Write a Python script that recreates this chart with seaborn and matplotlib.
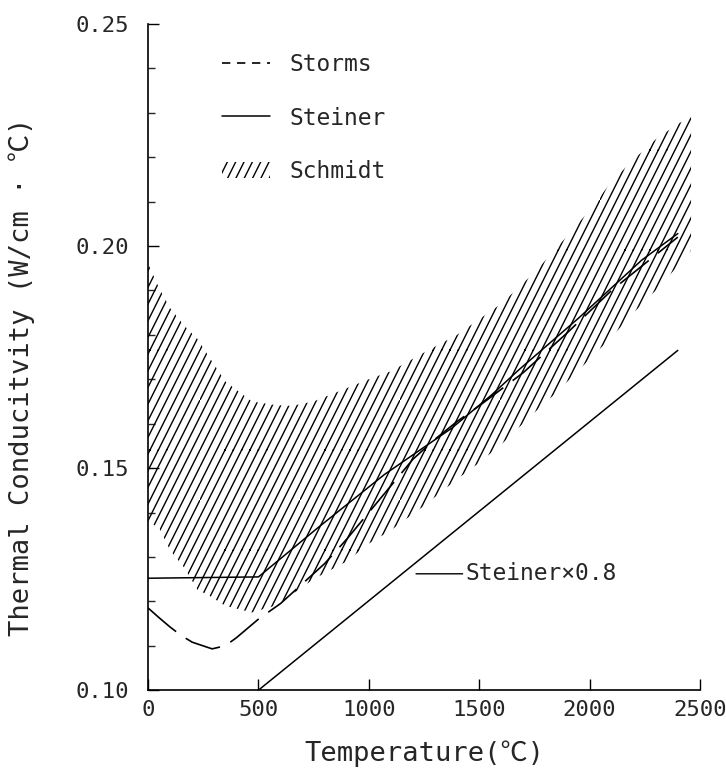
import numpy as np
import pandas as pd
import matplotlib
matplotlib.use("Agg")
import matplotlib.pyplot as plt
import matplotlib.hatch as mhatch
from matplotlib.path import Path
from matplotlib.lines import Line2D
from matplotlib.patches import Patch
from matplotlib.ticker import MultipleLocator, FixedLocator
import seaborn as sns

# Storms (dashed)
storms_t = [0, 50, 100, 150, 200, 290, 350, 400, 500, 600, 700, 800, 900, 1000,
            1100, 1200, 1300, 1400, 1500, 1700, 1900, 2100, 2300, 2400]
storms_k = [0.1185, 0.1163, 0.1142, 0.1123, 0.1108, 0.1093, 0.1100, 0.1118, 0.1160, 0.1195,
            0.1240, 0.1285, 0.1340, 0.1400, 0.1460, 0.1520, 0.1565, 0.1605, 0.1640,
            0.1715, 0.1805, 0.1900, 0.1980, 0.2020]

# Steiner (solid)
steiner_t = [0, 500, 770, 1072, 1376, 1557, 1677, 1949, 2236, 2400]
steiner_k = [0.1252, 0.1255, 0.1366, 0.1486, 0.1590, 0.1665, 0.1720, 0.1837, 0.1968, 0.2028]

# Steiner x 0.8
steiner08_t = [500, 2400]
steiner08_k = [0.1000, 0.1765]

# Schmidt band (hatched)
schmidt_t = [0, 50, 100, 165, 225, 270, 350, 470, 575, 650, 750, 900, 1000, 1100, 1250,
             1400, 1500, 1600, 1750, 1850, 2000, 2100, 2200, 2300, 2400, 2460]
schmidt_hi = [0.1960, 0.1905, 0.1860, 0.1820, 0.1790, 0.1755, 0.1695, 0.1650, 0.1642, 0.1640,
              0.1650, 0.1680, 0.1700, 0.1718, 0.1760, 0.1800, 0.1835, 0.1870, 0.1940,
              0.1995, 0.2080, 0.2145, 0.2195, 0.2240, 0.2275, 0.2290]
schmidt_lo = [0.1380, 0.1365, 0.1315, 0.1275, 0.1225, 0.1215, 0.1190, 0.1175, 0.1190, 0.1215,
              0.1250, 0.1290, 0.1330, 0.1360, 0.1415, 0.1475, 0.1512, 0.1553, 0.1625,
              0.1670, 0.1745, 0.1795, 0.1850, 0.1900, 0.1955, 0.1990]

xticks = [0, 500, 1000, 1500, 2000, 2500]
yticks = [0.10, 0.15, 0.20, 0.25]


# the scanned hatch is steeper than 45 deg, so swap the '/' hatch for slope-2 lines
class SteepHatch(mhatch.HatchPatternBase):
    def __init__(self, hatch, density):
        self.num_lines = hatch.count("/") * 6
        self.num_vertices = self.num_lines * 4

    def set_vertices_and_codes(self, vertices, codes):
        n = self.num_lines
        pts = []
        for k in range(n):
            x0 = k / n
            if x0 < 0.5:
                pts += [(x0, 0), (x0 + 0.25, 0.5), (x0 + 0.25, 0.5), (x0 + 0.5, 1)]
            else:
                yb = 2 * (1 - x0)
                pts += [(x0, 0), (1, yb), (0, yb), (x0 - 0.5, 1)]
        vertices[:] = pts
        codes[0::2] = Path.MOVETO
        codes[1::2] = Path.LINETO


mhatch._hatch_types[mhatch._hatch_types.index(mhatch.NorthEastHatch)] = SteepHatch

sns.set_style("ticks")
fam = ["DejaVu Sans Mono", "Noto Sans CJK JP", "DejaVu Sans"]
plt.rcParams["font.family"] = fam
plt.rcParams["hatch.linewidth"] = 1.0
plt.rcParams["hatch.color"] = "black"

fig = plt.figure(figsize=(7.26, 7.72), dpi=100)
ax = fig.add_axes([0.204, 0.106, 0.760, 0.863])

band = pd.DataFrame({"t": schmidt_t, "hi": schmidt_hi, "lo": schmidt_lo})
ax.fill_between(band["t"], band["lo"], band["hi"], facecolor="none",
                edgecolor="black", hatch="//", linewidth=0)

sns.lineplot(x=storms_t, y=storms_k, ax=ax, color="black", lw=1.2,
             linestyle=(0, (22, 7)))
sns.lineplot(x=steiner_t, y=steiner_k, ax=ax, color="black", lw=1.1)
sns.lineplot(x=steiner08_t, y=steiner08_k, ax=ax, color="black", lw=1.1)

ax.annotate("Steiner×0.8", xy=(1214, 0.1262), xytext=(1440, 0.1262),
            fontsize=16.5, va="center", ha="left",
            arrowprops=dict(arrowstyle="-", lw=1.0, color="black",
                            shrinkA=0, shrinkB=0))

ax.set_xlim(0, 2500)
ax.set_ylim(0.10, 0.25)
ax.xaxis.set_major_locator(FixedLocator(xticks))
ax.set_xticklabels([str(v) for v in xticks])
ax.yaxis.set_major_locator(FixedLocator(yticks))
ax.set_yticklabels([f"{v:.2f}" for v in yticks])
ax.yaxis.set_minor_locator(MultipleLocator(0.01))
ax.tick_params(axis="both", which="major", direction="in", length=8, width=1.0,
               labelsize=16, color="black")
ax.tick_params(axis="y", which="minor", direction="in", length=5, width=1.0)
ax.tick_params(axis="y", which="major", pad=14)
ax.tick_params(axis="x", which="major", pad=7)
sns.despine(ax=ax)
for s in ["left", "bottom"]:
    ax.spines[s].set_linewidth(1.2)
    ax.spines[s].set_color("black")

ax.set_xlabel("Temperature(℃)", fontsize=19.5)
ax.set_ylabel("Thermal Conducitvity (W/cm · ℃)", fontsize=19.5)
ax.xaxis.set_label_coords(0.5, -0.075)
ax.yaxis.set_label_coords(-0.205, 0.47)

handles = [
    Line2D([], [], color="black", lw=1.2, linestyle=(0, (5, 4))),
    Line2D([], [], color="black", lw=1.1),
    Patch(facecolor="none", edgecolor="black", hatch="//", linewidth=0),
]
ax.legend(handles, ["Storms", "Steiner", "Schmidt"], loc="upper left",
          bbox_to_anchor=(0.134, 0.957), frameon=False, fontsize=16.5,
          handlelength=2.1, handletextpad=0.85, labelspacing=1.35,
          borderpad=0, borderaxespad=0)

fig.savefig("out.png", dpi=100)
